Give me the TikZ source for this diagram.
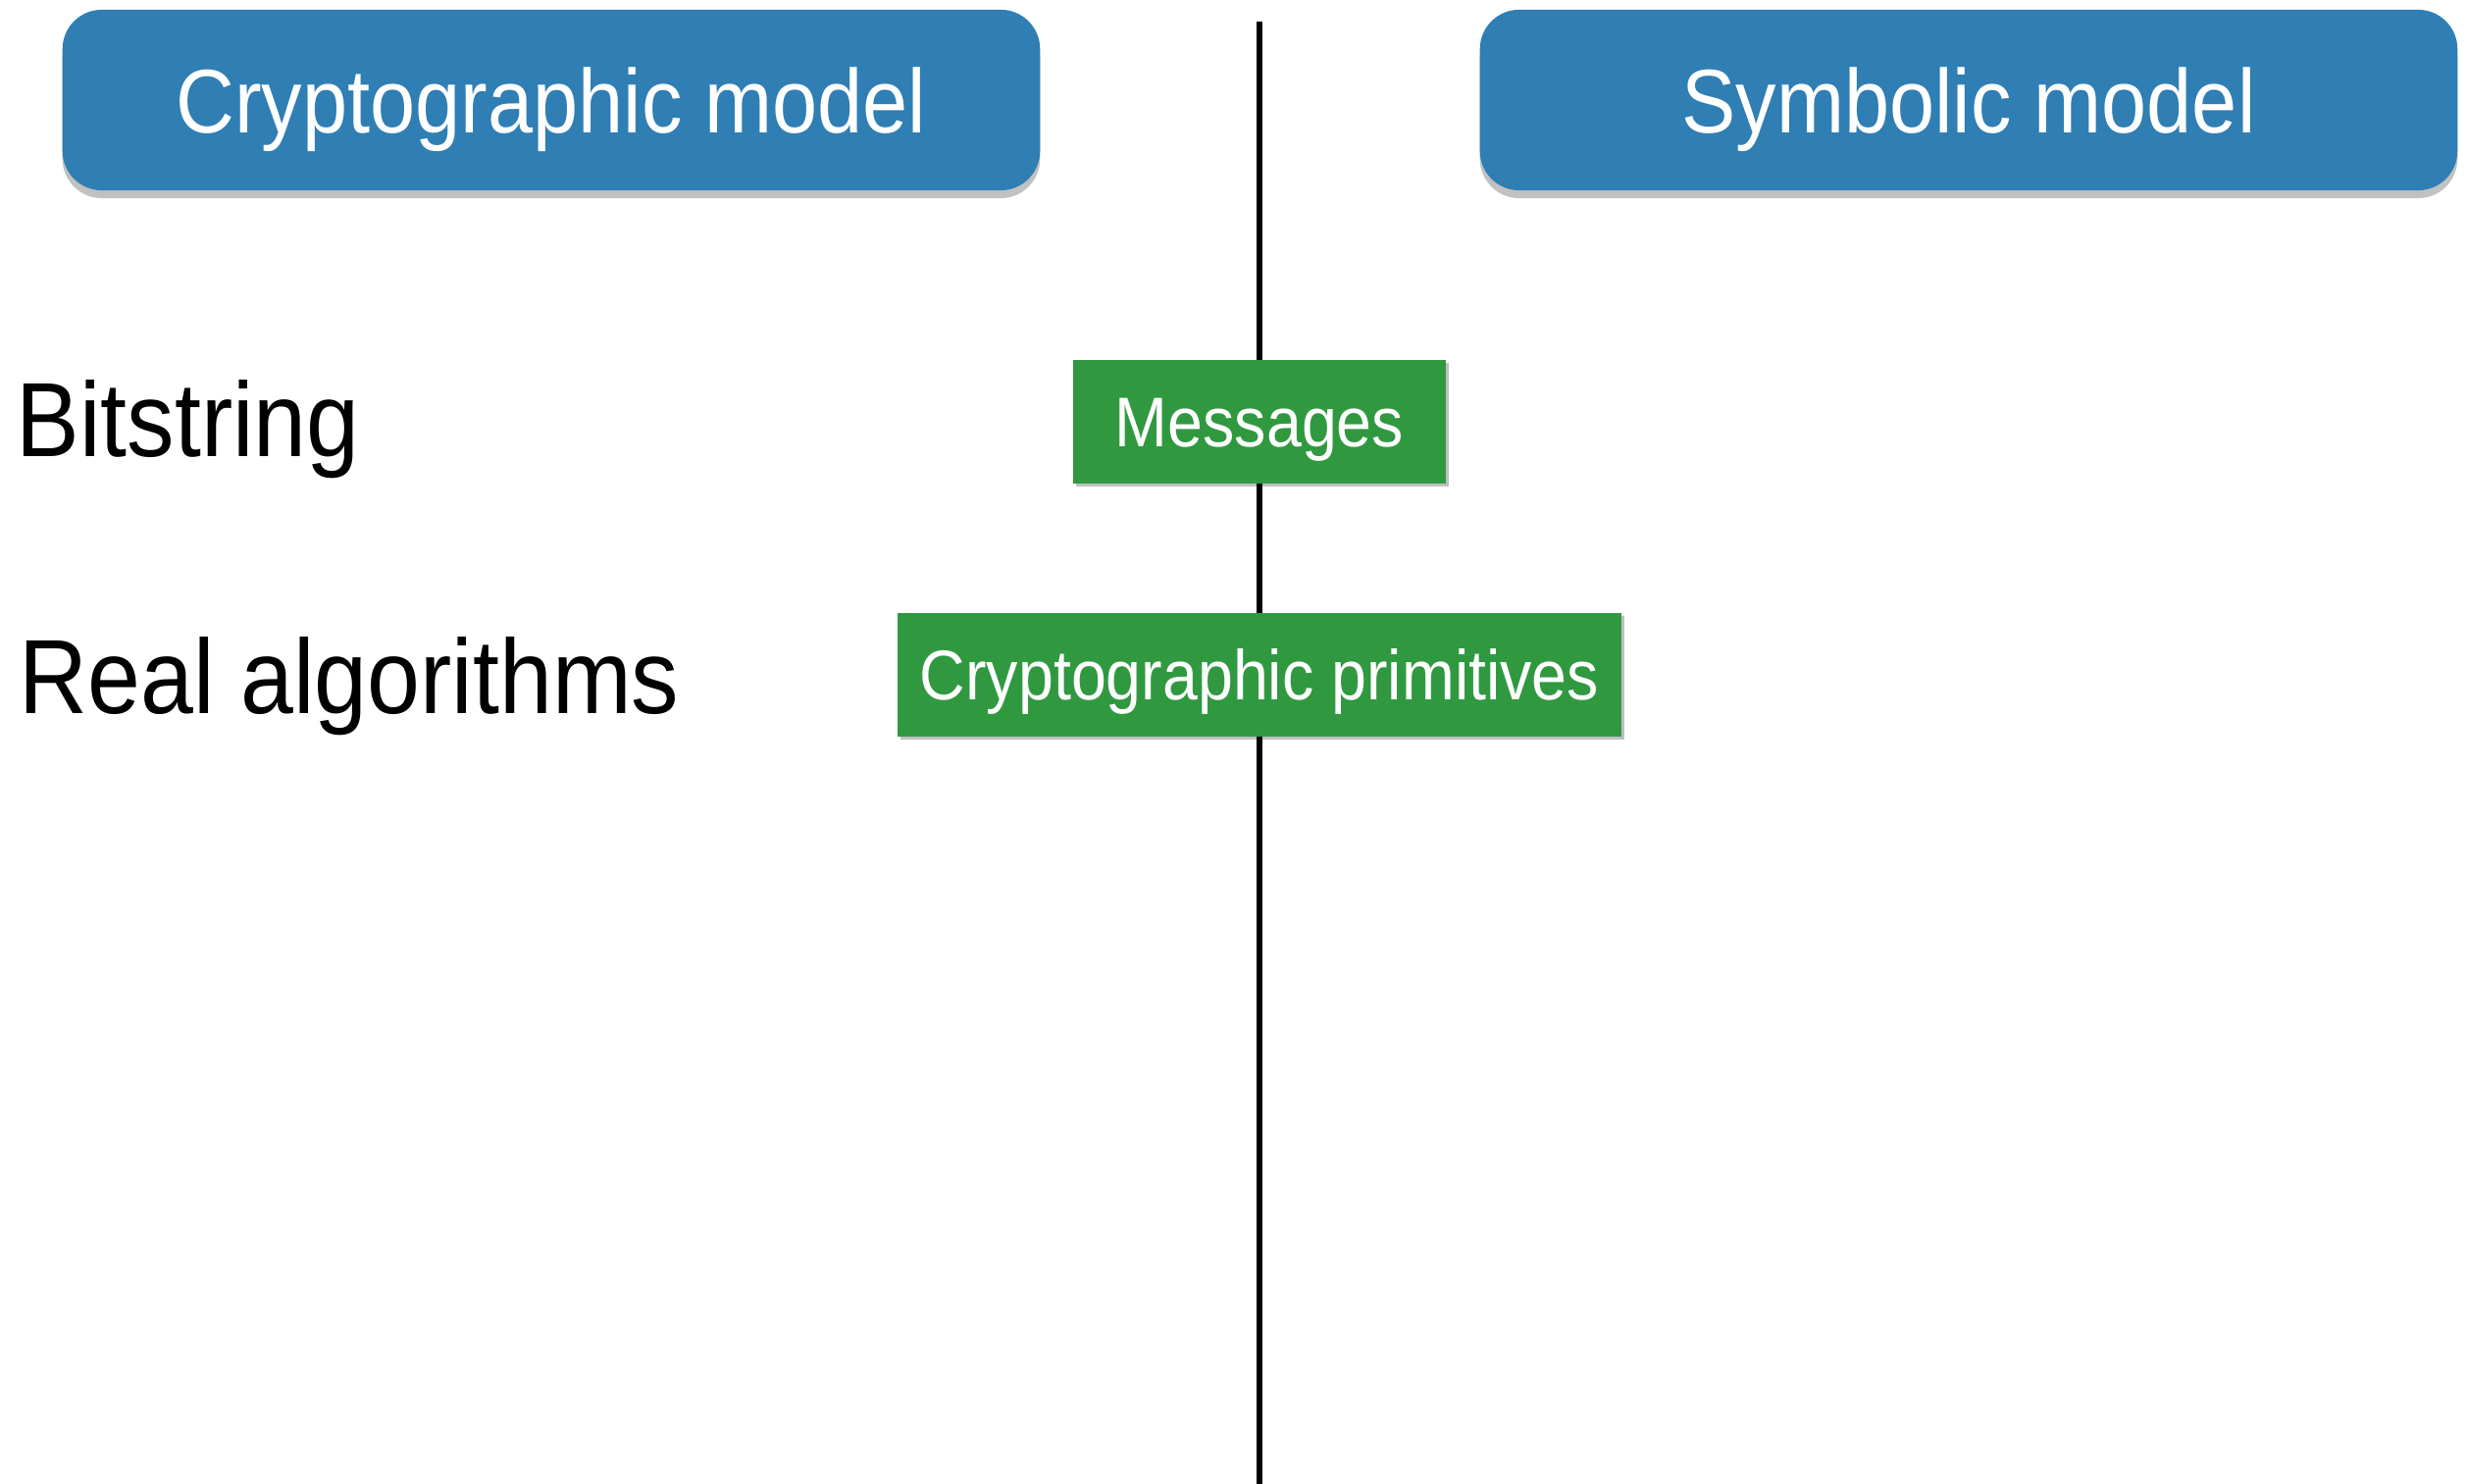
\documentclass[tikz,border=0pt]{standalone}
\usepackage{fontspec}
\setmainfont[FakeStretch=0.9]{Liberation Sans}
\usetikzlibrary{shadows}
\definecolor{modelblue}{RGB}{47,126,180}
\definecolor{notegreen}{RGB}{48,153,64}
\tikzset{
  modelbox/.style={fill=modelblue, text=white, rounded corners=0.4cm,
    minimum width=9.96cm, minimum height=1.84cm, inner sep=0pt,
    text height=18.8pt, text depth=0pt,
    font=\fontsize{26.2}{30}\selectfont,
    drop shadow={shadow xshift=0cm, shadow yshift=-0.08cm, opacity=0.3, fill=black!80}},
  notebox/.style={fill=notegreen, text=white, minimum height=1.25cm, inner sep=0pt,
    text height=14.6pt, text depth=0pt,
    font=\fontsize{20.4}{24}\selectfont,
    drop shadow={shadow xshift=0.03cm, shadow yshift=-0.03cm, opacity=0.25, fill=black}},
  rowlabel/.style={anchor=base west, inner sep=0pt, font=\fontsize{30.6}{35}\selectfont},
  divider/.style={draw=black, line width=1.5pt}
}
\begin{document}
\begin{tikzpicture}[x=0.01cm, y=-0.01cm]
  \useasboundingbox (0,0) rectangle (2514,1513);

  % axis separating the two models
  \coordinate (axistop) at (1284,22);
  \coordinate (axisbot) at (1284,1513);

  % model headings
  \node[modelbox] (crypto) at (562,102) {Cryptographic model};
  \node[modelbox] (symbolic) at (2007,102) {Symbolic model};

  % items sitting on the axis
  \node[notebox, minimum width=3.8cm] (msg) at (1284,430) {Messages};
  \node[notebox, minimum width=7.38cm] (prim) at (1284,688) {Cryptographic primitives};

  % row labels on the cryptographic side
  \node[rowlabel] (bits) at (16,466) {Bitstring};
  \node[rowlabel] (algos) at (19,728) {Real algorithms};

  \draw[divider] (axistop) -- (msg.north);
  \draw[divider] (msg.south) -- (prim.north);
  \draw[divider] (prim.south) -- (axisbot);
\end{tikzpicture}
\end{document}
